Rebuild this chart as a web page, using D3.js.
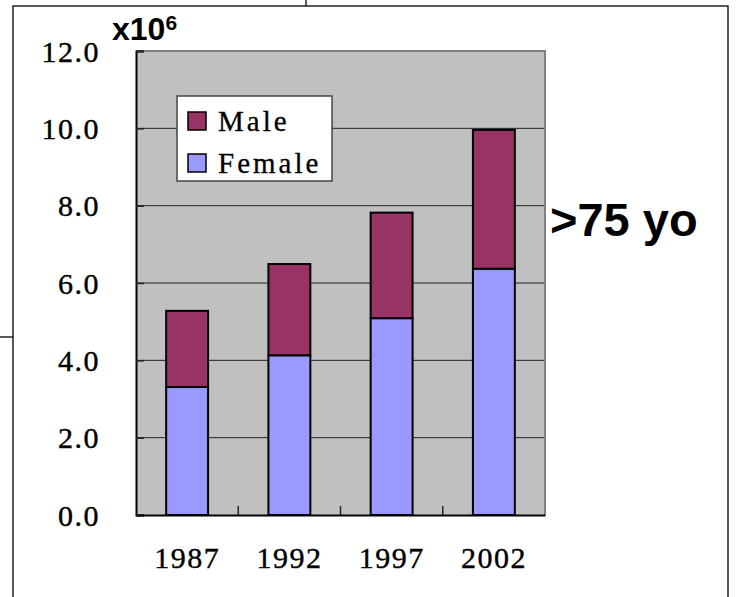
<!DOCTYPE html>
<html>
<head>
<meta charset="utf-8">
<script src="https://cdn.jsdelivr.net/npm/d3@7"></script>
<style>
  html, body { margin: 0; padding: 0; background: #fff; }
  svg { display: block; }
</style>
</head>
<body>
<svg id="chart" width="738" height="597"></svg>
<script>
// Population aged over 75, in millions, by survey year
const years = ["1987", "1992", "1997", "2002"];
const female = [3.31, 4.13, 5.09, 6.37];
const male = [1.97, 2.36, 2.73, 3.59];
const seriesKeys = ["Female", "Male"];
const seriesColors = ["#9999ff", "#993366"];
const yTicks = [0, 2, 4, 6, 8, 10, 12];

const svg = d3.select("#chart");
const plot = { left: 136, right: 545, top: 51, bottom: 515 };
const serif = "'Liberation Serif', 'DejaVu Serif', serif";

// Slide frame
const frame = svg.append("g").attr("stroke", "#222").attr("stroke-width", 1.5).attr("fill", "none");
frame.append("path").attr("d", "M13,597 V6 H728 V597");
frame.append("line").attr("x1", 306).attr("y1", 0).attr("x2", 306).attr("y2", 6);
frame.append("line").attr("x1", 0).attr("y1", 337).attr("x2", 13).attr("y2", 337);

const rows = years.map((yr, i) => ({ year: yr, Female: female[i], Male: male[i] }));

const x = d3.scaleBand()
  .domain(years)
  .range([plot.left, plot.right])
  .paddingInner(0.59)
  .paddingOuter(0.295);

const y = d3.scaleLinear()
  .domain([0, 12])
  .range([plot.bottom, plot.top]);

const color = d3.scaleOrdinal().domain(seriesKeys).range(seriesColors);

// Plot background
svg.append("rect")
  .attr("x", plot.left).attr("y", plot.top)
  .attr("width", plot.right - plot.left).attr("height", plot.bottom - plot.top)
  .attr("fill", "#c0c0c0");

// Horizontal gridlines
svg.append("g")
  .selectAll("line")
  .data(yTicks.filter(t => t > 0 && t < 12))
  .join("line")
  .attr("x1", plot.left).attr("x2", plot.right)
  .attr("y1", d => y(d)).attr("y2", d => y(d))
  .attr("stroke", "#222").attr("stroke-width", 1);

// Top and right border of plot area
svg.append("path")
  .attr("d", `M${plot.left},${plot.top} H${plot.right} V${plot.bottom}`)
  .attr("fill", "none").attr("stroke", "#808080").attr("stroke-width", 2);

// Stacked bars
const stacked = d3.stack().keys(seriesKeys)(rows);
svg.append("g")
  .selectAll("g")
  .data(stacked)
  .join("g")
  .attr("fill", d => color(d.key))
  .selectAll("rect")
  .data(d => d)
  .join("rect")
  .attr("x", d => x(d.data.year))
  .attr("width", x.bandwidth())
  .attr("y", d => y(d[1]))
  .attr("height", d => y(d[0]) - y(d[1]))
  .attr("stroke", "#000")
  .attr("stroke-width", 2);

// Y axis with inward ticks
const yAxis = svg.append("g")
  .attr("transform", `translate(${plot.left},0)`)
  .call(d3.axisLeft(y).tickValues(yTicks).tickFormat(d3.format(".1f")).tickSize(-8).tickPadding(36));
yAxis.select(".domain").attr("stroke", "#000").attr("stroke-width", 2);
yAxis.selectAll(".tick line").attr("stroke", "#222").attr("stroke-width", 1.5);
yAxis.selectAll(".tick text")
  .attr("font-family", serif)
  .attr("font-size", 30)
  .attr("letter-spacing", 1.5)
  .attr("fill", "#000")
  .attr("stroke", "#000").attr("stroke-width", 0.4)
  .attr("dy", "0.34em");

// X axis: labels under categories, inward ticks at category boundaries
const xAxis = svg.append("g")
  .attr("transform", `translate(0,${plot.bottom})`)
  .call(d3.axisBottom(x).tickSize(0).tickPadding(32));
xAxis.select(".domain").attr("stroke", "#000").attr("stroke-width", 2);
xAxis.selectAll(".tick text")
  .attr("font-family", serif)
  .attr("font-size", 30)
  .attr("letter-spacing", 1.5)
  .attr("fill", "#000")
  .attr("stroke", "#000").attr("stroke-width", 0.4);

const boundaries = years.slice(1).map(yr => x(yr) - x.step() * x.paddingInner() / 2);
svg.append("g")
  .selectAll("line")
  .data(boundaries)
  .join("line")
  .attr("x1", d => d).attr("x2", d => d)
  .attr("y1", plot.bottom).attr("y2", plot.bottom - 9)
  .attr("stroke", "#222").attr("stroke-width", 1.5);

// Unit label
const unit = svg.append("text")
  .attr("x", 112).attr("y", 40)
  .attr("font-family", "'Liberation Sans', Arial, sans-serif")
  .attr("font-weight", "bold")
  .attr("font-size", 32)
  .attr("fill", "#000");
unit.append("tspan").text("x10");
unit.append("tspan").attr("font-size", 21).attr("dy", -10).text("6");

// Age group annotation
svg.append("text")
  .attr("x", 550).attr("y", 236)
  .attr("font-family", "'Liberation Sans', Arial, sans-serif")
  .attr("font-weight", "bold")
  .attr("font-size", 47)
  .attr("fill", "#000")
  .text(">75 yo");

// Legend
const legend = svg.append("g");
legend.append("rect")
  .attr("x", 177).attr("y", 96).attr("width", 155).attr("height", 85)
  .attr("fill", "#fff").attr("stroke", "#444").attr("stroke-width", 1.5);
const legendItems = [
  { key: "Male", y: 121 },
  { key: "Female", y: 163 }
];
const li = legend.selectAll("g.item")
  .data(legendItems)
  .join("g")
  .attr("class", "item");
li.append("rect")
  .attr("x", 188).attr("y", d => d.y - 9)
  .attr("width", 18).attr("height", 18)
  .attr("fill", d => color(d.key))
  .attr("stroke", "#000").attr("stroke-width", 1.5);
li.append("text")
  .attr("x", 218).attr("y", d => d.y + 10)
  .attr("font-family", serif)
  .attr("font-size", 29)
  .attr("letter-spacing", 3)
  .attr("fill", "#000")
  .attr("stroke", "#000").attr("stroke-width", 0.3)
  .text(d => d.key);
</script>
</body>
</html>
